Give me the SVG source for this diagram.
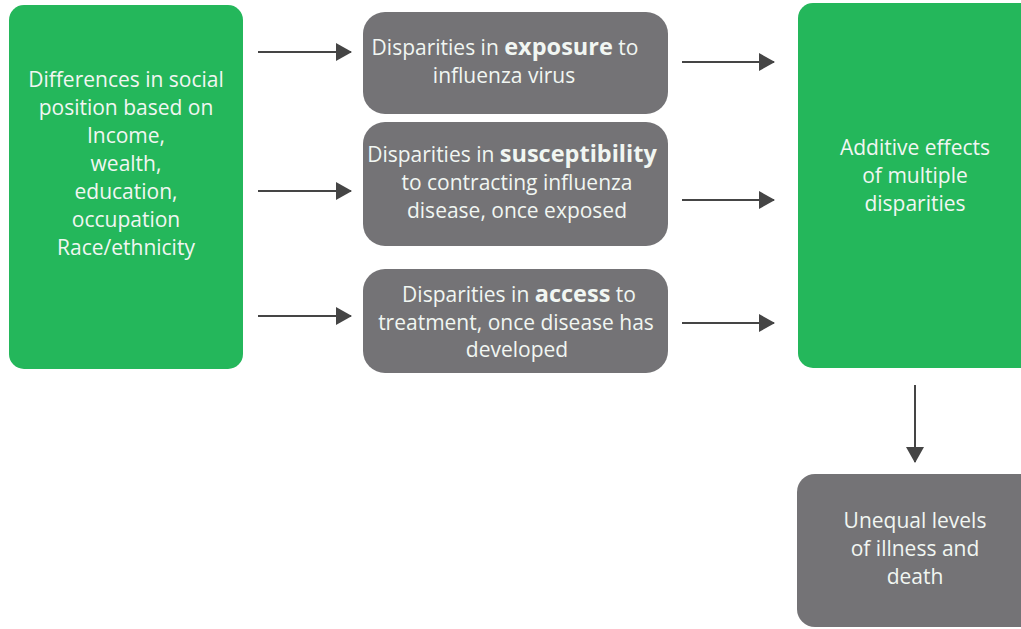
<svg xmlns="http://www.w3.org/2000/svg" width="1021" height="629" viewBox="0 0 1021 629">
<style>
.g{fill:#24b75b}
.d{fill:#747376}
.t{font-family:"Open Sans","Liberation Sans",sans-serif;font-size:21px;fill:#f1f6f2;text-anchor:middle}
.b{font-weight:bold;font-size:23.5px}
.c{stroke:#454545;stroke-width:2;fill:none;marker-end:url(#ah)}
</style>
<defs>
<marker id="ah" viewBox="0 0 16 18" refX="15" refY="9" markerWidth="16" markerHeight="18" markerUnits="userSpaceOnUse" orient="auto">
<path d="M0,0 L16,9 L0,18 Z" fill="#454545"/>
</marker>
</defs>
<rect width="1021" height="629" fill="#ffffff"/>
<g id="connectors">
<path class="c" d="M258,52 H351"/>
<path class="c" d="M258,191 H351"/>
<path class="c" d="M258,316 H351"/>
<path class="c" d="M682,62 H774"/>
<path class="c" d="M682,200 H774"/>
<path class="c" d="M682,323 H774"/>
<path class="c" d="M915,385 V462"/>
</g>
<g id="social-position">
<rect class="g" x="9" y="5" width="234" height="364" rx="15"/>
<text class="t" x="126" y="87">Differences in social</text>
<text class="t" x="126" y="115">position based on</text>
<text class="t" x="126" y="143">Income,</text>
<text class="t" x="126" y="171">wealth,</text>
<text class="t" x="126" y="199">education,</text>
<text class="t" x="126" y="227">occupation</text>
<text class="t" x="126" y="255">Race/ethnicity</text>
</g>
<g id="exposure">
<rect class="d" x="363" y="12" width="305" height="102" rx="22"/>
<text class="t" x="505" y="55">Disparities in <tspan class="b">exposure</tspan> to</text>
<text class="t" x="504" y="83">influenza virus</text>
</g>
<g id="susceptibility">
<rect class="d" x="363" y="122" width="305" height="124" rx="22"/>
<text class="t" x="512" y="162">Disparities in <tspan class="b">susceptibility</tspan></text>
<text class="t" x="517" y="190">to contracting influenza</text>
<text class="t" x="517" y="218">disease, once exposed</text>
</g>
<g id="access">
<rect class="d" x="363" y="269" width="305" height="104" rx="22"/>
<text class="t" x="519" y="302">Disparities in <tspan class="b">access</tspan> to</text>
<text class="t" x="516" y="330">treatment, once disease has</text>
<text class="t" x="517" y="357">developed</text>
</g>
<g id="additive-effects">
<rect class="g" x="798" y="3" width="240" height="365" rx="15"/>
<text class="t" x="915" y="155">Additive effects</text>
<text class="t" x="915" y="183">of multiple</text>
<text class="t" x="915" y="211">disparities</text>
</g>
<g id="unequal-levels">
<rect class="d" x="797" y="474" width="240" height="153" rx="18"/>
<text class="t" x="915" y="528">Unequal levels</text>
<text class="t" x="915" y="556">of illness and</text>
<text class="t" x="915" y="584">death</text>
</g>
</svg>
